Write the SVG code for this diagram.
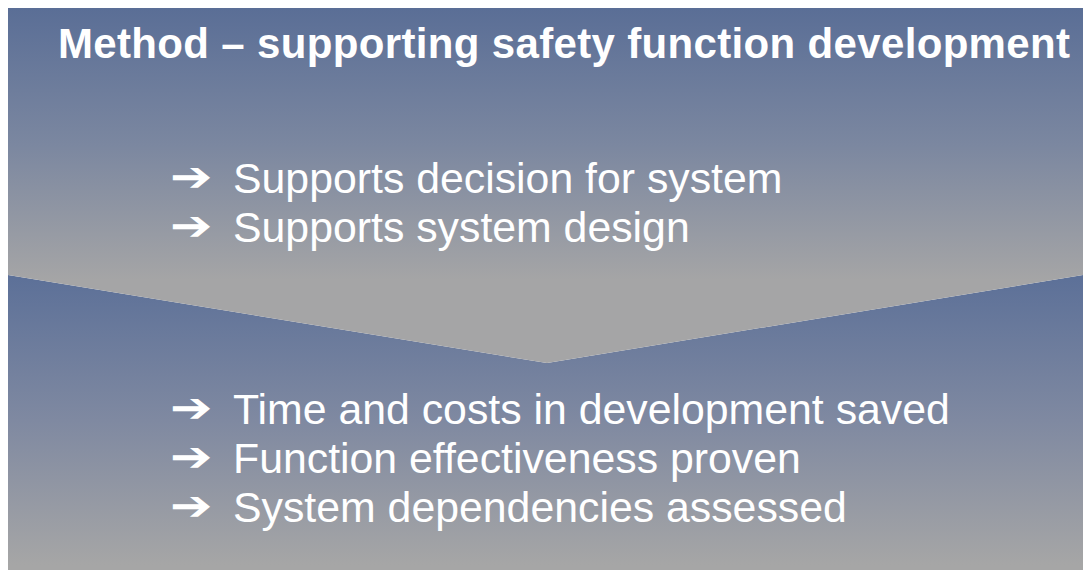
<svg xmlns="http://www.w3.org/2000/svg" width="1083" height="570" viewBox="0 0 1083 570">
  <defs>
    <linearGradient id="gTop" gradientUnits="userSpaceOnUse" x1="0" y1="8" x2="0" y2="280">
      <stop offset="0" stop-color="#5a6e96"/>
      <stop offset="0.5" stop-color="#7b87a0"/>
      <stop offset="1" stop-color="#a5a5a6"/>
    </linearGradient>
    <linearGradient id="gBot" gradientUnits="userSpaceOnUse" x1="0" y1="275" x2="0" y2="565">
      <stop offset="0" stop-color="#5c7098"/>
      <stop offset="0.5" stop-color="#7f89a1"/>
      <stop offset="1" stop-color="#a6a6a6"/>
    </linearGradient>
    <style>
      .title { font-family: "Liberation Sans", Arial, sans-serif; font-weight: bold; font-size: 42px; fill: #ffffff; }
      .item { font-family: "Liberation Sans", Arial, sans-serif; font-size: 42.8px; fill: #ffffff; }
      .arrow { font-family: "DejaVu Sans", sans-serif; font-size: 41.5px; font-weight: bold; fill: #ffffff; }
    </style>
  </defs>

  <g id="bottom-panel">
    <path d="M8 275 L547 363 L1083 275 L1083 570 L8 570 Z" fill="url(#gBot)"/>
    <text class="arrow" transform="translate(170 0) scale(1.22 1)"><tspan x="0" y="422.5">➔</tspan><tspan x="0" y="471.5">➔</tspan><tspan x="0" y="520.5">➔</tspan></text>
    <text class="item" x="233" y="424">Time and costs in development saved</text>
    <text class="item" x="233" y="473">Function effectiveness proven</text>
    <text class="item" x="233" y="522">System dependencies assessed</text>
  </g>

  <g id="top-panel">
    <path d="M8 8 L1083 8 L1083 275 L547 363 L8 275 Z" fill="url(#gTop)"/>
    <text class="title" x="58" y="58" textLength="1012" lengthAdjust="spacing">Method – supporting safety function development</text>
    <text class="arrow" transform="translate(170 0) scale(1.22 1)"><tspan x="0" y="191.5">➔</tspan><tspan x="0" y="240.5">➔</tspan></text>
    <text class="item" x="233" y="193">Supports decision for system</text>
    <text class="item" x="233" y="242">Supports system design</text>
  </g>

  <g id="connectors"></g>
</svg>
